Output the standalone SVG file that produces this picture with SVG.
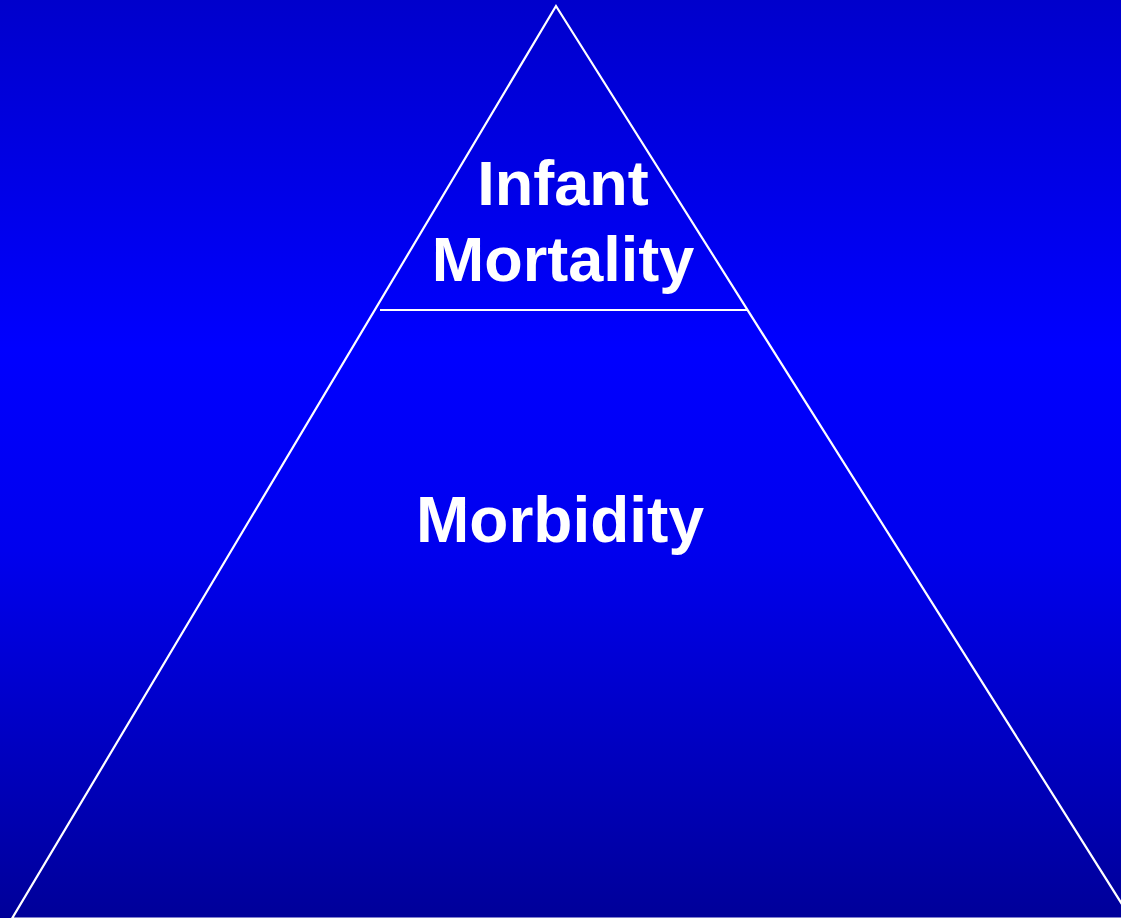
<svg xmlns="http://www.w3.org/2000/svg" width="1121" height="918" viewBox="0 0 1121 918">
<defs>
<linearGradient id="bg" x1="0" y1="0" x2="0" y2="1">
<stop offset="0" stop-color="#0000CC"/>
<stop offset="0.38" stop-color="#0000FF"/>
<stop offset="0.6" stop-color="#0000EE"/>
<stop offset="1" stop-color="#000099"/>
</linearGradient>
<style>
.edge{fill:none;stroke:#FFFFFF;stroke-width:2.2;stroke-linejoin:miter}
.lbl{font-family:"Liberation Sans",Arial,sans-serif;font-weight:bold;fill:#FFFFFF;text-anchor:middle}
</style>
</defs>
<rect x="0" y="0" width="1121" height="918" fill="url(#bg)"/>
<g id="connectors">
<polygon class="edge" points="556,6 12,918.5 1131,918.5"/>
<line class="edge" x1="380" y1="310" x2="748" y2="310"/>
</g>
<g id="infant-mortality">
<text class="lbl" x="563" y="205" font-size="63">Infant</text>
<text class="lbl" x="563" y="281" font-size="63">Mortality</text>
</g>
<g id="morbidity">
<text class="lbl" x="560" y="542" font-size="64">Morbidity</text>
</g>
</svg>
